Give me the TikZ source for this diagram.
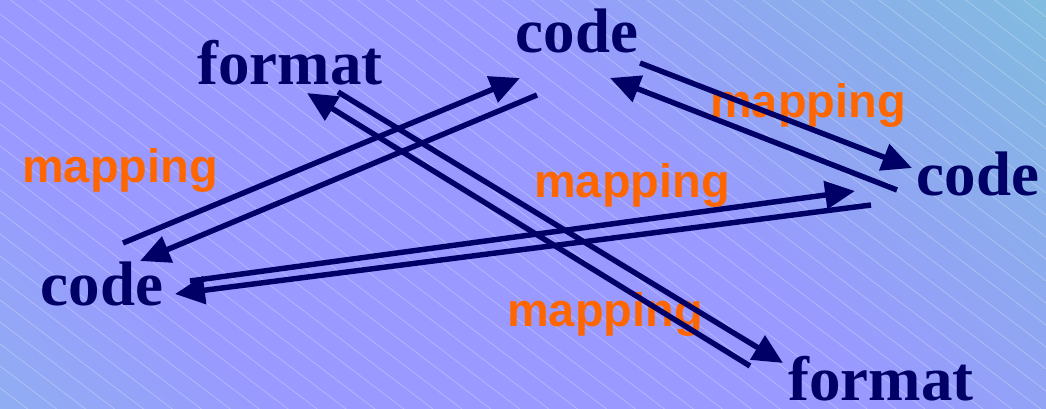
\documentclass[tikz,border=0pt]{standalone}
\usepackage{fontspec}
\setmainfont{Liberation Serif}
\newfontfamily\mapfont{Liberation Sans}
\usetikzlibrary{arrows.meta}
\definecolor{navyink}{RGB}{0,0,102}
\definecolor{maporange}{RGB}{255,102,0}
\definecolor{bgMid}{RGB}{153,153,255}
\definecolor{bgLow}{RGB}{134,196,228}
\definecolor{bgHigh}{RGB}{116,206,206}
\pgfdeclarehorizontalshading{slidebg}{100bp}{color(0bp)=(bgLow); color(28bp)=(bgMid); color(58bp)=(bgMid); color(100bp)=(bgHigh)}

\begin{document}
\begin{tikzpicture}[x=0.02cm, y=-0.02cm,
    word/.style={anchor=base, inner sep=0pt, text=navyink, font=\fontsize{35.8pt}{40pt}\selectfont\bfseries},
    maplabel/.style={anchor=base, inner sep=0pt, text=maporange, font=\mapfont\fontsize{26.7pt}{30pt}\selectfont\bfseries},
    maparrow/.style={draw=navyink, line width=3.1pt, -{Triangle[length=17pt, width=15.5pt]}}]
    \path[use as bounding box] (0,0) rectangle (1046,409);
    \shade[shading=slidebg, shading angle=45] (0,0) rectangle (1046,409);
    \begin{scope}
        \clip (0,0) rectangle (1046,409);
        \foreach \c in {-800,-778,...,420}
            \draw[white, opacity=0.3, line width=0.4pt] (0,\c) -- (1046,\c+795);
    \end{scope}
    \node[word] (fmtTop) at (290,84) {format};
    \node[word] (codeTop) at (577,52) {code};
    \node[word] (codeRight) at (978,195) {code};
    \node[word] (codeLeft) at (102,305) {code};
    \node[word] (fmtBottom) at (881,400) {format};
    \node[maplabel] (mapLeft) at (120,182) {mapping};
    \node[maplabel] (mapTop) at (808,117) {mapping};
    \node[maplabel] (mapMid) at (632,197) {mapping};
    \node[maplabel] (mapBottom) at (605,326) {mapping};
    \coordinate (a1) at (123,243); \coordinate (a2) at (520,78);
    \coordinate (b1) at (537,95);  \coordinate (b2) at (140,261);
    \coordinate (c1) at (338,92);  \coordinate (c2) at (783,363);
    \coordinate (d1) at (750,366); \coordinate (d2) at (307,93);
    \coordinate (e1) at (640,63);  \coordinate (e2) at (912,168);
    \coordinate (f1) at (897,190); \coordinate (f2) at (610,78);
    \coordinate (g1) at (190,281); \coordinate (g2) at (855,191);
    \coordinate (h1) at (871,205); \coordinate (h2) at (175,294);
    \draw[maparrow] (a1) -- (a2);
    \draw[maparrow] (b1) -- (b2);
    \draw[maparrow] (c1) -- (c2);
    \draw[maparrow] (d1) -- (d2);
    \draw[maparrow] (e1) -- (e2);
    \draw[maparrow] (f1) -- (f2);
    \draw[maparrow] (g1) -- (g2);
    \draw[maparrow] (h1) -- (h2);
\end{tikzpicture}
\end{document}
